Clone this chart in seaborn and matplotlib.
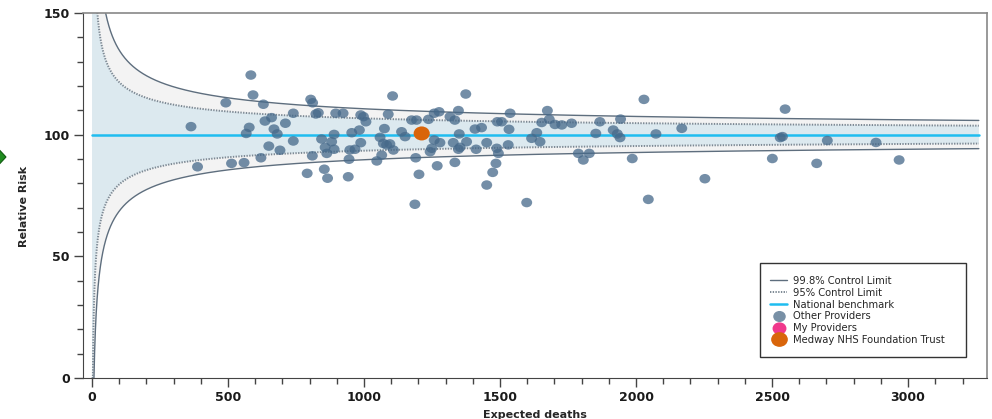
import numpy as np
import pandas as pd
import matplotlib
matplotlib.use("Agg")
import matplotlib.pyplot as plt
import seaborn as sns
from matplotlib.path import Path
from matplotlib.lines import Line2D
from matplotlib.patches import Rectangle, Polygon
from matplotlib.ticker import MultipleLocator

# datos
expected = [364, 388, 492, 513, 559, 584, 592, 567, 578, 630, 636, 660, 669, 681, 650, 621,
            711, 691, 740, 740, 804, 811, 823, 832, 810, 844, 857, 863, 881, 890, 890, 896,
            791, 854, 866, 923, 988, 998, 1007, 1089, 955, 983, 988, 948, 967, 945, 942,
            1075, 1059, 1071, 1083, 1095, 1065, 1047, 1108, 1138, 1151, 1175, 1193, 1237,
            1258, 1276, 1258, 1279, 1249, 1243, 1190, 1269, 1202, 1187, 1105, 1374, 1316,
            1334, 1347, 1350, 1328, 1377, 1353, 1347, 1334, 1408, 1432, 1451, 1412, 1490,
            1488, 1494, 1485, 1473, 1451, 1506, 1537, 1533, 1530, 1598, 1616, 1635, 1647,
            1653, 1674, 1681, 1702, 1727, 1763, 1788, 1828, 1806, 1852, 1867, 1916, 1931,
            1941, 1943, 1986, 2029, 2073, 2045, 2168, 2253, 2548, 2538, 2530, 2501, 2703,
            2664, 2882, 2967]
relative_risk = [103.3, 86.8, 113.1, 88.2, 88.5, 124.5, 116.3, 100.5, 103.0, 112.5, 105.6,
                 107.0, 102.3, 100.3, 95.3, 90.5, 104.7, 93.6, 108.8, 97.4, 114.5, 113.1,
                 108.5, 109.0, 91.3, 98.2, 94.8, 92.3, 97.1, 94.0, 100.1, 108.8, 84.1, 85.8,
                 82.1, 108.8, 108.1, 107.4, 105.3, 108.4, 100.8, 101.9, 96.7, 93.7, 94.0,
                 89.9, 82.7, 102.5, 98.9, 96.4, 95.8, 96.2, 91.6, 89.2, 93.7, 101.2, 99.2,
                 106.0, 106.0, 106.3, 108.8, 109.4, 97.8, 96.7, 94.4, 93.0, 90.5, 87.2, 83.7,
                 71.4, 115.9, 116.7, 107.4, 106.0, 109.9, 100.3, 96.7, 97.1, 94.8, 94.0, 88.6,
                 102.3, 102.9, 96.7, 94.0, 105.3, 94.4, 92.3, 88.2, 84.5, 79.3, 105.3, 108.8,
                 102.2, 95.8, 72.1, 98.5, 100.8, 97.1, 105.0, 109.9, 106.3, 104.2, 104.0,
                 104.7, 92.3, 92.3, 89.6, 100.5, 105.3, 101.9, 100.3, 98.8, 106.4, 90.2,
                 114.5, 100.3, 73.4, 102.6, 81.9, 110.5, 99.2, 98.8, 90.2, 97.6, 88.2, 96.8,
                 89.6]
medway_expected = [1212]
medway_rr = [100.5]
benchmark = 100
z_998 = 3.31   # ajustado a lo que se ve en la imagen
z_95 = 2.10

df_otros = pd.DataFrame({'expected': expected, 'rr': relative_risk})
df_medway = pd.DataFrame({'expected': medway_expected, 'rr': medway_rr})


def limite(e, z, signo):
    # aproximacion normal con correccion de asimetria de Poisson
    return benchmark * (1 + signo * z / np.sqrt(e) + (z ** 2 - 1) / (6 * e))


# limites de control del embudo
e = np.geomspace(0.3, 3260, 4000)
funnel = pd.DataFrame({
    'e': e,
    'up998': limite(e, z_998, 1),
    'lo998': np.clip(limite(e, z_998, -1), 0, None),
    'up95': limite(e, z_95, 1),
    'lo95': np.clip(limite(e, z_95, -1), 0, None),
})
# por debajo del minimo el limite inferior queda en 0
for col, z in [('lo998', z_998), ('lo95', z_95)]:
    emin = funnel['e'][funnel[col].idxmin()]
    funnel.loc[funnel['e'] < emin, col] = 0

sns.set_style("ticks")
plt.rcParams['font.family'] = ['DejaVu Sans']

fig = plt.figure(figsize=(9.92, 4.19), dpi=100)
ax = fig.add_axes([83 / 992, 1 - 378 / 419, 904 / 992, 365 / 419])

# sombreado
ax.fill_between(funnel['e'], funnel['lo998'], funnel['up998'], color='#f3f3f3', lw=0, zorder=1)
ax.fill_between(funnel['e'], funnel['lo95'], funnel['up95'], color='#dce9ef', lw=0, zorder=1)

for col in ['up998', 'lo998']:
    sns.lineplot(data=funnel, x='e', y=col, ax=ax, color='#5e6e7e', lw=1.0, zorder=2)
for col in ['up95', 'lo95']:
    sns.lineplot(data=funnel, x='e', y=col, ax=ax, color='#7d8994', lw=1.4,
                 linestyle=(0, (0.7, 0.7)), zorder=2)

ax.plot([0.3, 3260], [benchmark, benchmark], color='#1fbdf0', lw=1.8, zorder=3)

# marcador eliptico
circ = Path.unit_circle()
elipse = Path(circ.vertices * np.array([1.15, 1.0]), circ.codes)

sns.scatterplot(data=df_otros, x='expected', y='rr', ax=ax, marker=elipse, s=62,
                color='#46698a', alpha=0.75, edgecolor='none', zorder=4)
sns.scatterplot(data=df_medway, x='expected', y='rr', ax=ax, marker=elipse, s=135,
                color='#d9650b', edgecolor='none', zorder=5)

ax.set_xlim(-33, 3290)
ax.set_ylim(0, 150)
ax.set_yticks([0, 50, 100, 150])
ax.xaxis.set_major_locator(MultipleLocator(500))
ax.xaxis.set_minor_locator(MultipleLocator(100))
ax.yaxis.set_minor_locator(MultipleLocator(10))
ax.tick_params(which='major', length=6.5, width=1, color='#444444', pad=3)
ax.tick_params(which='minor', length=4.3, width=1, color='#444444')
for lab in ax.get_xticklabels() + ax.get_yticklabels():
    lab.set_fontweight('bold')
    lab.set_fontsize(9)
    lab.set_color('#1a1a1a')
for s in ['left', 'bottom']:
    ax.spines[s].set_color('#444444')
for s in ['top', 'right']:
    ax.spines[s].set_color('#888888')
    ax.spines[s].set_linewidth(1.2)

ax.set_xlabel('Expected deaths', fontsize=8, fontweight='bold')
ax.set_ylabel('Relative Risk', fontsize=8, fontweight='bold')
ax.xaxis.set_label_coords(0.5, -0.088)
ax.yaxis.set_label_coords(-0.06, 0.47)

# caja de leyenda
caja = Rectangle(((760 - 83) / 904, (378 - 357) / 365), 206 / 904, 94 / 365,
                 transform=ax.transAxes, facecolor='white', edgecolor='#333333', lw=1, zorder=6)
ax.add_patch(caja)
handles = [
    Line2D([], [], color='#5e6e7e', lw=1.0),
    Line2D([], [], color='#7d8994', lw=1.4, linestyle=(0, (0.7, 0.7))),
    Line2D([], [], color='#1fbdf0', lw=1.8),
    Line2D([], [], marker=elipse, linestyle='none', color='#7890a6', markersize=8),
    Line2D([], [], marker=elipse, linestyle='none', color='#f0388c', markersize=9),
    Line2D([], [], marker=elipse, linestyle='none', color='#d9650b', markersize=11),
]
labels = ['99.8% Control Limit', '95% Control Limit', 'National benchmark',
          'Other Providers', 'My Providers', 'Medway NHS Foundation Trust']
leg = ax.legend(handles, labels, loc='upper left', bbox_to_anchor=((770 - 83) / 904, (378 - 276) / 365),
                frameon=False, fontsize=7.2, borderpad=0, handlelength=1.7, handletextpad=0.6,
                labelspacing=0.18, borderaxespad=0)
leg.set_zorder(7)

# rombo verde del borde
rombo = Polygon([(-22 / 992, 1 - 157 / 419), (-8 / 992, 1 - 142 / 419), (6 / 992, 1 - 157 / 419),
                 (-8 / 992, 1 - 172 / 419)], closed=True, transform=fig.transFigure,
                facecolor='#1f8c1f', edgecolor='#0f5a0f', lw=0.8)
fig.patches.append(rombo)

plt.savefig('out.png', dpi=100)
plt.close()
